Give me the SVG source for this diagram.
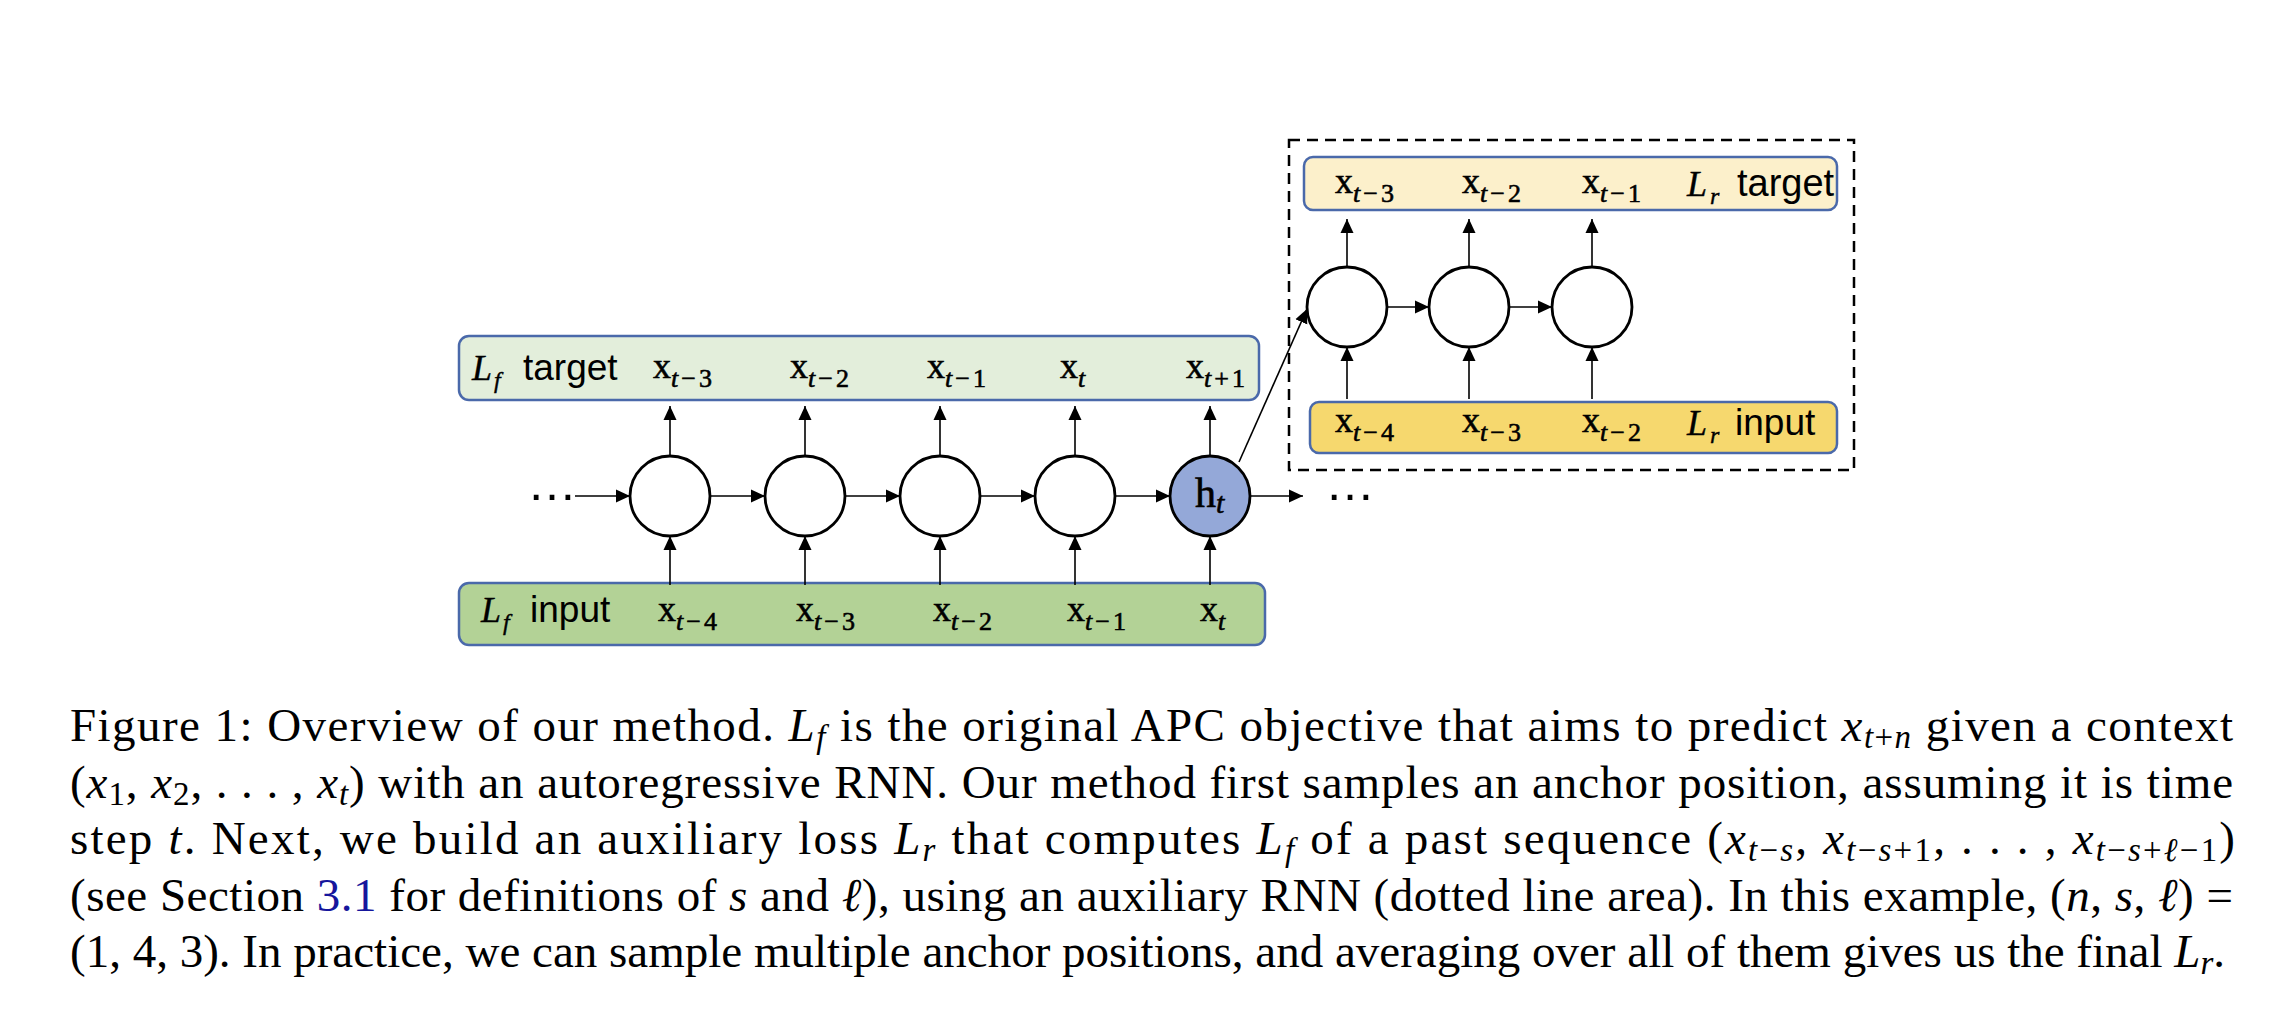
<svg xmlns="http://www.w3.org/2000/svg" width="2288" height="1026" viewBox="0 0 2288 1026">
<style>
.box{stroke:#4a69aa;stroke-width:2.5}
.cell{fill:#fff;stroke:#000;stroke-width:2.8}
.conn{stroke:#000;stroke-width:1.6;fill:none;marker-end:url(#ah)}
.xv{font-family:"Liberation Serif","DejaVu Serif",serif;font-size:36px;fill:#000;stroke:#000;stroke-width:0.6}
.sb{font-size:26px}
.mi{font-family:"Liberation Serif","DejaVu Serif",serif;font-style:italic}
.lb{stroke:#000;stroke-width:0.4}
.sans{font-family:"Liberation Sans",Arial,sans-serif;font-size:37px;fill:#000}
.dots{font-family:"Liberation Sans",Arial,sans-serif;font-size:50px;fill:#000}
.cap{font-family:"Liberation Serif","Times New Roman",serif;font-size:47px;fill:#000}
.ms{font-size:33px}
.lnk{fill:#16169c}
</style>
<defs>
<marker id="ah" markerWidth="14" markerHeight="14" refX="14" refY="7" orient="auto" markerUnits="userSpaceOnUse">
<path d="M0,0.5 L14,7 L0,13.5 z" fill="#000"/>
</marker>
</defs>
<rect width="2288" height="1026" fill="#fff"/>

<g id="lf-target">
<rect class="box" x="459" y="336" width="800" height="64" rx="10" fill="#e3eedb"/>
<text x="472" y="380" class="mi lb" font-size="36">L</text>
<text x="494" y="388" class="mi lb" font-size="24">f</text>
<text x="523" y="380" class="sans">target</text>
<text x="653" y="378" class="xv">x<tspan class="sb" dy="9"><tspan font-style="italic">t</tspan><tspan dx="3">−</tspan><tspan dx="3">3</tspan></tspan></text>
<text x="790" y="378" class="xv">x<tspan class="sb" dy="9"><tspan font-style="italic">t</tspan><tspan dx="3">−</tspan><tspan dx="3">2</tspan></tspan></text>
<text x="927" y="378" class="xv">x<tspan class="sb" dy="9"><tspan font-style="italic">t</tspan><tspan dx="3">−</tspan><tspan dx="3">1</tspan></tspan></text>
<text x="1060" y="378" class="xv">x<tspan class="sb" dy="9" font-style="italic">t</tspan></text>
<text x="1186" y="378" class="xv">x<tspan class="sb" dy="9"><tspan font-style="italic">t</tspan><tspan dx="3">+</tspan><tspan dx="3">1</tspan></tspan></text>
</g>

<g id="lf-input">
<rect class="box" x="459" y="583" width="806" height="62" rx="10" fill="#b3d296"/>
<text x="481" y="622" class="mi lb" font-size="36">L</text>
<text x="503" y="630" class="mi lb" font-size="24">f</text>
<text x="530" y="622" class="sans">input</text>
<text x="658" y="621" class="xv">x<tspan class="sb" dy="9"><tspan font-style="italic">t</tspan><tspan dx="3">−</tspan><tspan dx="3">4</tspan></tspan></text>
<text x="796" y="621" class="xv">x<tspan class="sb" dy="9"><tspan font-style="italic">t</tspan><tspan dx="3">−</tspan><tspan dx="3">3</tspan></tspan></text>
<text x="933" y="621" class="xv">x<tspan class="sb" dy="9"><tspan font-style="italic">t</tspan><tspan dx="3">−</tspan><tspan dx="3">2</tspan></tspan></text>
<text x="1067" y="621" class="xv">x<tspan class="sb" dy="9"><tspan font-style="italic">t</tspan><tspan dx="3">−</tspan><tspan dx="3">1</tspan></tspan></text>
<text x="1200" y="621" class="xv">x<tspan class="sb" dy="9" font-style="italic">t</tspan></text>
</g>

<g id="rnn-main">
<g id="cell1"><circle class="cell" cx="670" cy="496" r="40"/></g>
<g id="cell2"><circle class="cell" cx="805" cy="496" r="40"/></g>
<g id="cell3"><circle class="cell" cx="940" cy="496" r="40"/></g>
<g id="cell4"><circle class="cell" cx="1075" cy="496" r="40"/></g>
<g id="cell-ht"><circle class="cell" cx="1210" cy="496" r="40" style="fill:#94a8d8"/>
<text x="1195" y="507" class="xv" font-size="42" style="font-size:42px">h<tspan font-size="30" style="font-size:30px" dy="6" font-style="italic">t</tspan></text></g>
<text id="dots-left" x="527" y="500" class="dots">…</text>
<text id="dots-right" x="1325" y="500" class="dots">…</text>
</g>

<g id="aux-area">
<rect x="1289" y="140" width="565" height="330" fill="none" stroke="#000" stroke-width="2.5" stroke-dasharray="11 7"/>
</g>

<g id="lr-target">
<rect class="box" x="1304" y="157" width="533" height="53" rx="9" fill="#fcf0cb"/>
<text x="1335" y="193" class="xv">x<tspan class="sb" dy="9"><tspan font-style="italic">t</tspan><tspan dx="3">−</tspan><tspan dx="3">3</tspan></tspan></text>
<text x="1462" y="193" class="xv">x<tspan class="sb" dy="9"><tspan font-style="italic">t</tspan><tspan dx="3">−</tspan><tspan dx="3">2</tspan></tspan></text>
<text x="1582" y="193" class="xv">x<tspan class="sb" dy="9"><tspan font-style="italic">t</tspan><tspan dx="3">−</tspan><tspan dx="3">1</tspan></tspan></text>
<text x="1687" y="196" class="mi lb" font-size="36">L</text>
<text x="1710" y="204" class="mi lb" font-size="24">r</text>
<text x="1737" y="196" class="sans" style="font-size:38px">target</text>
</g>

<g id="lr-input">
<rect class="box" x="1310" y="402" width="527" height="51" rx="9" fill="#f6d86e"/>
<text x="1335" y="432" class="xv">x<tspan class="sb" dy="9"><tspan font-style="italic">t</tspan><tspan dx="3">−</tspan><tspan dx="3">4</tspan></tspan></text>
<text x="1462" y="432" class="xv">x<tspan class="sb" dy="9"><tspan font-style="italic">t</tspan><tspan dx="3">−</tspan><tspan dx="3">3</tspan></tspan></text>
<text x="1582" y="432" class="xv">x<tspan class="sb" dy="9"><tspan font-style="italic">t</tspan><tspan dx="3">−</tspan><tspan dx="3">2</tspan></tspan></text>
<text x="1687" y="435" class="mi lb" font-size="36">L</text>
<text x="1710" y="443" class="mi lb" font-size="24">r</text>
<text x="1735" y="435" class="sans">input</text>
</g>

<g id="rnn-aux">
<g id="aux1"><circle class="cell" cx="1347" cy="307" r="40"/></g>
<g id="aux2"><circle class="cell" cx="1469" cy="307" r="40"/></g>
<g id="aux3"><circle class="cell" cx="1592" cy="307" r="40"/></g>
</g>

<g id="connectors">
<path class="conn" d="M575,496 L630,496"/>
<path class="conn" d="M710,496 L765,496"/>
<path class="conn" d="M845,496 L900,496"/>
<path class="conn" d="M980,496 L1035,496"/>
<path class="conn" d="M1115,496 L1170,496"/>
<path class="conn" d="M1250,496 L1303,496"/>
<path class="conn" d="M670,456 L670,406"/>
<path class="conn" d="M805,456 L805,406"/>
<path class="conn" d="M940,456 L940,406"/>
<path class="conn" d="M1075,456 L1075,406"/>
<path class="conn" d="M1210,456 L1210,406"/>
<path class="conn" d="M670,585 L670,536"/>
<path class="conn" d="M805,585 L805,536"/>
<path class="conn" d="M940,585 L940,536"/>
<path class="conn" d="M1075,585 L1075,536"/>
<path class="conn" d="M1210,585 L1210,536"/>
<path class="conn" d="M1239,462 L1307,309"/>
<path class="conn" d="M1387,307 L1429,307"/>
<path class="conn" d="M1509,307 L1552,307"/>
<path class="conn" d="M1347,267 L1347,219"/>
<path class="conn" d="M1469,267 L1469,219"/>
<path class="conn" d="M1592,267 L1592,219"/>
<path class="conn" d="M1347,399 L1347,347"/>
<path class="conn" d="M1469,399 L1469,347"/>
<path class="conn" d="M1592,399 L1592,347"/>
</g>

<g id="caption">
<text class="cap" x="70" y="741" textLength="2163" lengthAdjust="spacing">Figure 1: Overview of our method. <tspan class="mi">L</tspan><tspan class="mi ms" dy="7">f</tspan><tspan dy="-7"> is the original APC objective that aims to predict </tspan><tspan class="mi">x</tspan><tspan class="ms" dy="7"><tspan class="mi">t</tspan>+<tspan class="mi">n</tspan></tspan><tspan dy="-7"> given a context</tspan></text>
<text class="cap" x="70" y="797.5" textLength="2163" lengthAdjust="spacing">(<tspan class="mi">x</tspan><tspan class="ms" dy="7">1</tspan><tspan dy="-7">, </tspan><tspan class="mi">x</tspan><tspan class="ms" dy="7">2</tspan><tspan dy="-7">, . . . , </tspan><tspan class="mi">x</tspan><tspan class="mi ms" dy="7">t</tspan><tspan dy="-7">) with an autoregressive RNN. Our method first samples an anchor position, assuming it is time</tspan></text>
<text class="cap" x="70" y="854" textLength="2165" lengthAdjust="spacing">step <tspan class="mi">t</tspan>. Next, we build an auxiliary loss <tspan class="mi">L</tspan><tspan class="mi ms" dy="7">r</tspan><tspan dy="-7"> that computes </tspan><tspan class="mi">L</tspan><tspan class="mi ms" dy="7">f</tspan><tspan dy="-7"> of a past sequence (</tspan><tspan class="mi">x</tspan><tspan class="ms" dy="7"><tspan class="mi">t</tspan>−<tspan class="mi">s</tspan></tspan><tspan dy="-7">, </tspan><tspan class="mi">x</tspan><tspan class="ms" dy="7"><tspan class="mi">t</tspan>−<tspan class="mi">s</tspan>+1</tspan><tspan dy="-7">, . . . , </tspan><tspan class="mi">x</tspan><tspan class="ms" dy="7"><tspan class="mi">t</tspan>−<tspan class="mi">s</tspan>+<tspan class="mi">ℓ</tspan>−1</tspan><tspan dy="-7">)</tspan></text>
<text class="cap" x="70" y="910.5" textLength="2163" lengthAdjust="spacing">(see Section <tspan class="lnk">3.1</tspan> for definitions of <tspan class="mi">s</tspan> and <tspan class="mi">ℓ</tspan>), using an auxiliary RNN (dotted line area). In this example, (<tspan class="mi">n</tspan>, <tspan class="mi">s</tspan>, <tspan class="mi">ℓ</tspan>) =</text>
<text class="cap" x="70" y="967" textLength="2155" lengthAdjust="spacing">(1, 4, 3). In practice, we can sample multiple anchor positions, and averaging over all of them gives us the final <tspan class="mi">L</tspan><tspan class="mi ms" dy="7">r</tspan><tspan dy="-7">.</tspan></text>
</g>
</svg>
